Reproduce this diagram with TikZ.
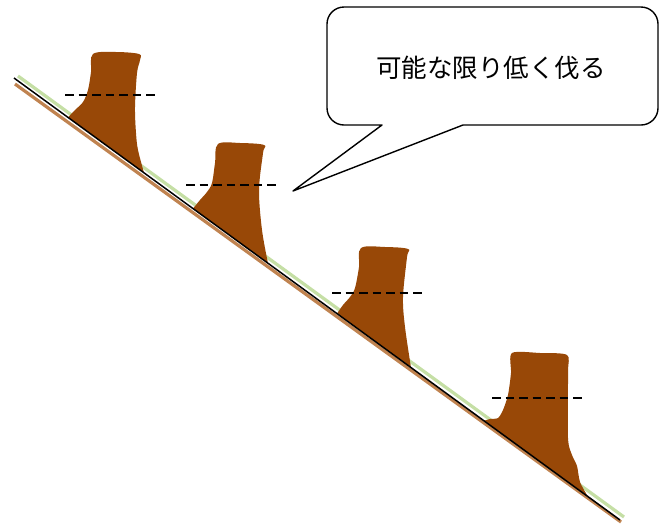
\documentclass[tikz,border=0pt]{standalone}
\usepackage{fontspec}
\usetikzlibrary{calc}
\newfontfamily\jpfont{Noto Sans CJK JP}
\definecolor{stump}{HTML}{984807}
\definecolor{grass}{HTML}{C5DFA5}
\definecolor{soil}{HTML}{C08350}
\definecolor{ink}{HTML}{000000}
\newcommand{\calloutfont}{\jpfont\fontsize{25.5}{30}\selectfont}
\tikzset{
  cutline/.style={ink,line width=1.8pt,dash pattern=on 8.5pt off 5pt},
  stumpfill/.style={fill=stump},
  bubble/.style={ink,line width=1.4pt,fill=white,line join=round},
}

\begin{document}
\begin{tikzpicture}[x=1pt,y=-1pt]
\useasboundingbox[fill=white] (0,0) rectangle (659,523);
\draw[grass,line width=3.2pt] (18,76) -- (624,517);
\fill[stumpfill] plot[smooth,tension=0.55] coordinates {(68,117.4) (75,110) (83,102) (88,90) (91,72) (93,54) (116,52) (139,54) (140,60) (137,73) (135,107) (136,133) (138,150) (144,172.8)} -- cycle;
\fill[stumpfill] plot[smooth,tension=0.55] coordinates {(193,208.6) (200,200) (207,192) (212,183) (215,163) (218,144) (240,143) (264,145) (263,153) (259,190) (262,230) (268,263.3)} -- cycle;
\fill[stumpfill] plot[smooth,tension=0.55] coordinates {(337,313.6) (343,305) (350,297) (355,288) (359,267) (361,248) (385,247) (408,249) (407,257) (403,297) (405,327) (411,367.6)} -- cycle;
\fill[stumpfill] plot[smooth,tension=0.45] coordinates {(484,420.8) (490,419) (498,418) (503,410) (508,395) (511,373) (512,353) (540,353) (567,355) (568,373) (568,438) (572,455) (577,466) (580,482) (588,496.7)} -- cycle;
\draw[soil,line width=3.2pt] (15,84) -- (621,522);
\draw[ink,line width=1.5pt] (14,78) -- (620,520);
\draw[cutline] (65,95) -- (157,95);
\draw[cutline] (186,185) -- (279,185);
\draw[cutline] (332,293) -- (425,293);
\draw[cutline] (492,398) -- (585,398);
\coordinate (tip) at (293,191);
\draw[bubble] (tip) [sharp corners]-- (463,125) [rounded corners=17pt]-- (658,125) -- (658,7) -- (327,7) -- (327,125) [sharp corners]-- (382,125) -- cycle;
\node[inner sep=0,font=\calloutfont] (note) at (491,68) {可能な限り低く伐る};
\end{tikzpicture}
\end{document}
